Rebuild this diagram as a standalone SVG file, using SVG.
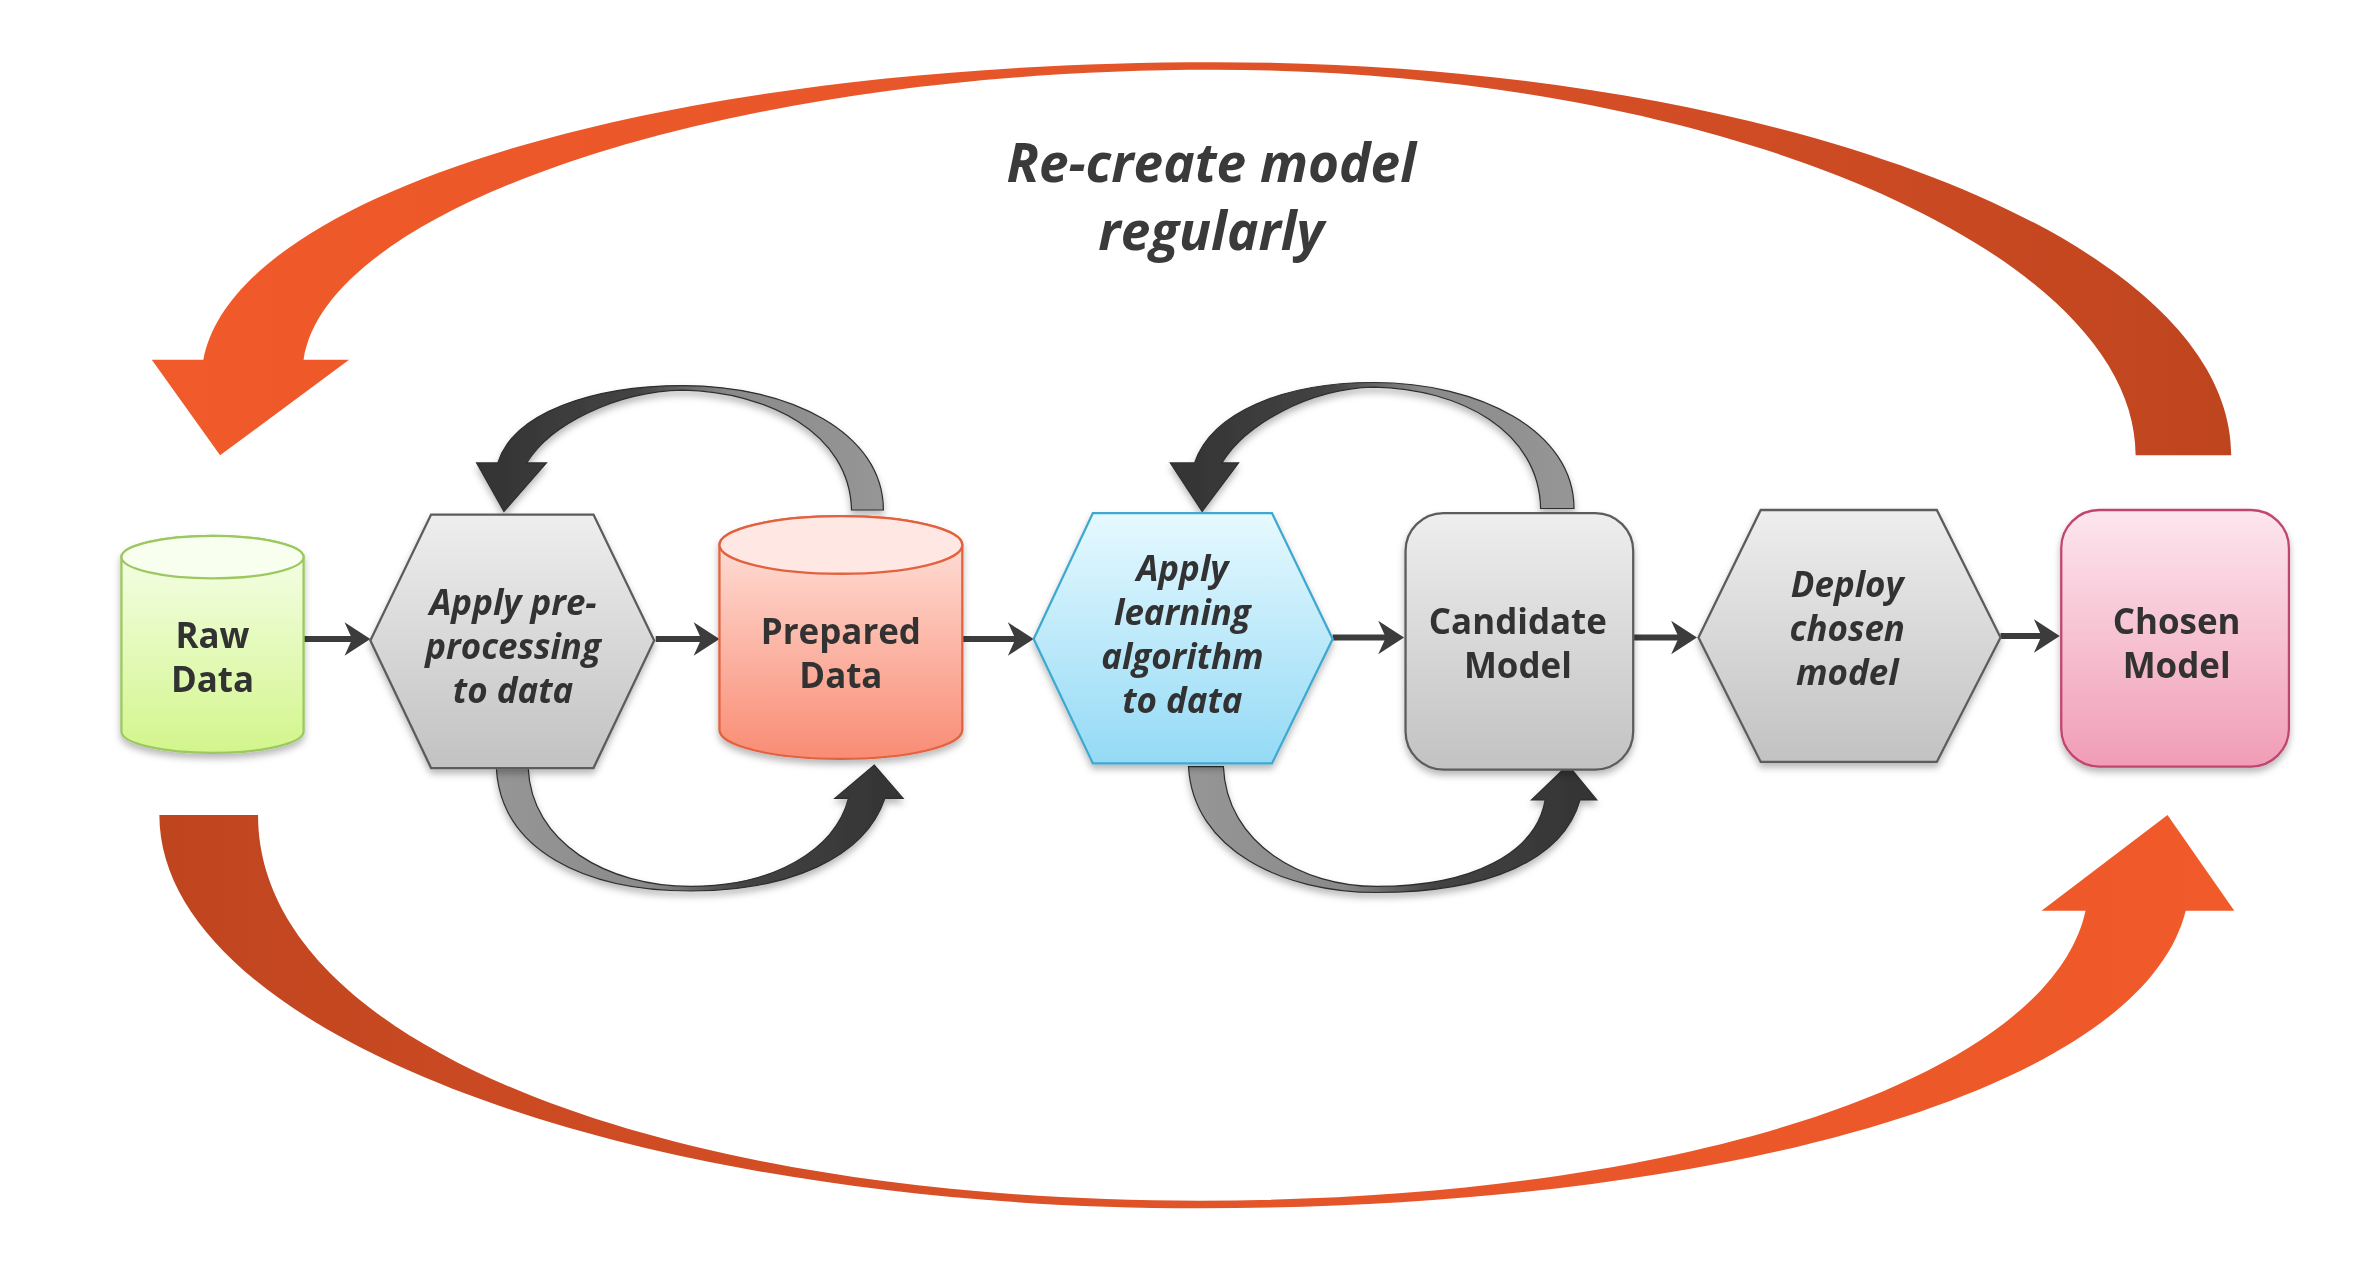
<svg xmlns="http://www.w3.org/2000/svg" width="2380" height="1269" viewBox="0 0 2380 1269">
<defs>
<style>
.t{font-family:"Open Sans","Liberation Sans",sans-serif;font-weight:700;font-size:23px;fill:#333;text-anchor:middle}
.ti{font-family:"Open Sans","Liberation Sans",sans-serif;font-weight:700;font-style:italic;font-size:23px;fill:#333;text-anchor:middle}
.title{font-family:"Open Sans","Liberation Sans",sans-serif;font-weight:700;font-style:italic;font-size:35px;fill:#3a3a3a;text-anchor:middle}
.edge{stroke:#3c3c3c;stroke-width:4;fill:none;marker-end:url(#ah)}
.loop{stroke:#2e2e2e;stroke-width:0.8;filter:url(#sh)}
</style>
<linearGradient id="gGreen" x1="0" y1="0" x2="0" y2="1"><stop offset="0" stop-color="#f6ffec"/><stop offset="1" stop-color="#d3f58c"/></linearGradient>
<linearGradient id="gGray" x1="0" y1="0" x2="0" y2="1"><stop offset="0" stop-color="#eeeeee"/><stop offset="1" stop-color="#c2c2c2"/></linearGradient>
<linearGradient id="gSalmon" x1="0" y1="0" x2="0" y2="1"><stop offset="0" stop-color="#ffe6e0"/><stop offset="1" stop-color="#f98c74"/></linearGradient>
<linearGradient id="gBlue" x1="0" y1="0" x2="0" y2="1"><stop offset="0" stop-color="#e6f9ff"/><stop offset="1" stop-color="#94daf5"/></linearGradient>
<linearGradient id="gPink" x1="0" y1="0" x2="0" y2="1"><stop offset="0" stop-color="#fde6ee"/><stop offset="1" stop-color="#f09db6"/></linearGradient>
<linearGradient id="gOrTop" x1="0" y1="0" x2="1" y2="0"><stop offset="0" stop-color="#f15a29"/><stop offset="0.45" stop-color="#e5552a"/><stop offset="1" stop-color="#bf451f"/></linearGradient>
<linearGradient id="gOrBot" x1="0" y1="0" x2="1" y2="0"><stop offset="0" stop-color="#bf451f"/><stop offset="0.55" stop-color="#e5552a"/><stop offset="1" stop-color="#f15a29"/></linearGradient>
<linearGradient id="gLoopUp" x1="0" y1="0" x2="1" y2="0"><stop offset="0" stop-color="#333"/><stop offset="0.4" stop-color="#444"/><stop offset="0.62" stop-color="#8a8a8a"/><stop offset="1" stop-color="#969696"/></linearGradient>
<linearGradient id="gLoopDn" x1="0" y1="0" x2="1" y2="0"><stop offset="0" stop-color="#969696"/><stop offset="0.38" stop-color="#8a8a8a"/><stop offset="0.6" stop-color="#444"/><stop offset="1" stop-color="#333"/></linearGradient>
<filter id="sh" x="-20%" y="-20%" width="140%" height="150%"><feDropShadow dx="0" dy="3" stdDeviation="2.5" flood-color="#000" flood-opacity="0.28"/></filter>
<marker id="ah" viewBox="-18 -12 19 24" markerWidth="19" markerHeight="24" refX="-8" refY="0" orient="auto" markerUnits="userSpaceOnUse"><path d="M0,0 L-17,-11 L-12,0 L-17,11 Z" fill="#3c3c3c"/></marker>
</defs>
<rect width="2380" height="1269" fill="#ffffff"/>
<g transform="scale(1.51786)">
<g id="cycle">
<path id="top-arc" fill="url(#gOrTop)" d="M1407,300 L1470,300 C1470,157 1170,41 800,41 C440,41 155,125 134,237 L100,237 L145,300 L230,237 L200,237 C215,135 480,46 800,46 C1130,46 1407,165 1407,300 Z"/>
<path id="bottom-arc" fill="url(#gOrBot)" d="M105,537 L170,537 C170,690 440,791 790,791 C1110,791 1350,710 1374,600 L1345,600 L1428,537 L1472,600 L1440,600 C1410,720 1130,796 790,796 C412,796 105,680 105,537 Z"/>
<text id="title" class="title" x="798" y="120">Re-create model<tspan x="798" dy="44.5">regularly</tspan></text>
</g>
<g id="connectors">
<line class="edge" x1="200" y1="421" x2="236" y2="421"/>
<line class="edge" x1="432" y1="421" x2="466" y2="421"/>
<line class="edge" x1="634" y1="421" x2="673" y2="421"/>
<line class="edge" x1="878" y1="420" x2="917" y2="420"/>
<line class="edge" x1="1076" y1="420" x2="1110" y2="420"/>
<line class="edge" x1="1318" y1="419" x2="1349" y2="419"/>
<path class="loop" fill="url(#gLoopUp)" d="M561,336 L582,336 C582,285 520,254 450,254 C390,254 338,272 328,305 L314,305 L332,337 L360,305 L347,305 C362,280 405,258 450,257 C505,258 560,285 561,336 Z"/>
<path class="loop" fill="url(#gLoopDn)" d="M327,506 L348,506 C350,555 400,584 455,584 C510,584 550,560 559,526 L550,526 L576,504 L595,526 L583,526 C570,565 520,587 455,587 C385,587 330,560 327,506 Z"/>
<path class="loop" fill="url(#gLoopUp)" d="M1015,335 L1037,335 C1037,284 975,252 905,252 C845,252 798,272 787,305 L771,305 L792,337 L816,305 L805,305 C820,280 862,256 905,255 C962,256 1014,284 1015,335 Z"/>
<path class="loop" fill="url(#gLoopDn)" d="M783,505 L806,505 C808,556 858,584 907,584 C970,584 1012,562 1018,527 L1009,527 L1033,504 L1052,527 L1041,527 C1030,566 982,588 907,588 C845,588 786,560 783,505 Z"/>
</g>
<g id="node-raw-data" filter="url(#sh)">
<path d="M80,367 A60,14 0 0 1 200,367 L200,482 A60,14 0 0 1 80,482 Z" fill="url(#gGreen)" stroke="#9cc860" stroke-width="1.5"/>
<ellipse cx="140" cy="367" rx="60" ry="14" fill="#f8ffef" stroke="#9cc860" stroke-width="1.5"/>
<text class="t" x="140" y="427">Raw<tspan x="140" dy="29">Data</tspan></text>
</g>
<g id="node-preprocess" filter="url(#sh)">
<polygon points="284,339 391,339 431,422 391,506 284,506 244,422" fill="url(#gGray)" stroke="#5c5c5c" stroke-width="1.5"/>
<text class="ti" x="338" y="405">Apply pre-<tspan x="338" dy="29">processing</tspan><tspan x="338" dy="29">to data</tspan></text>
</g>
<g id="node-prepared-data" filter="url(#sh)">
<path d="M474,359 A80,19 0 0 1 634,359 L634,481 A80,19 0 0 1 474,481 Z" fill="url(#gSalmon)" stroke="#e2623f" stroke-width="1.5"/>
<ellipse cx="554" cy="359" rx="80" ry="19" fill="#ffe8e3" stroke="#e2623f" stroke-width="1.5"/>
<text class="t" x="554" y="424">Prepared<tspan x="554" dy="29">Data</tspan></text>
</g>
<g id="node-learning" filter="url(#sh)">
<polygon points="720,338 838,338 878,421 838,503 720,503 681,421" fill="url(#gBlue)" stroke="#3fa8cf" stroke-width="1.5"/>
<text class="ti" x="779" y="383">Apply<tspan x="779" dy="29">learning</tspan><tspan x="779" dy="29">algorithm</tspan><tspan x="779" dy="29">to data</tspan></text>
</g>
<g id="node-candidate" filter="url(#sh)">
<rect x="926" y="338" width="150" height="169" rx="25" fill="url(#gGray)" stroke="#5c5c5c" stroke-width="1.5"/>
<text class="t" x="1000" y="418">Candidate<tspan x="1000" dy="29">Model</tspan></text>
</g>
<g id="node-deploy" filter="url(#sh)">
<polygon points="1160,336 1276,336 1318,420 1276,502 1160,502 1119,420" fill="url(#gGray)" stroke="#5c5c5c" stroke-width="1.5"/>
<text class="ti" x="1217" y="393">Deploy<tspan x="1217" dy="29">chosen</tspan><tspan x="1217" dy="29">model</tspan></text>
</g>
<g id="node-chosen" filter="url(#sh)">
<rect x="1358" y="336" width="150" height="169" rx="25" fill="url(#gPink)" stroke="#c0456f" stroke-width="1.5"/>
<text class="t" x="1434" y="418">Chosen<tspan x="1434" dy="29">Model</tspan></text>
</g>
</g>
</svg>
